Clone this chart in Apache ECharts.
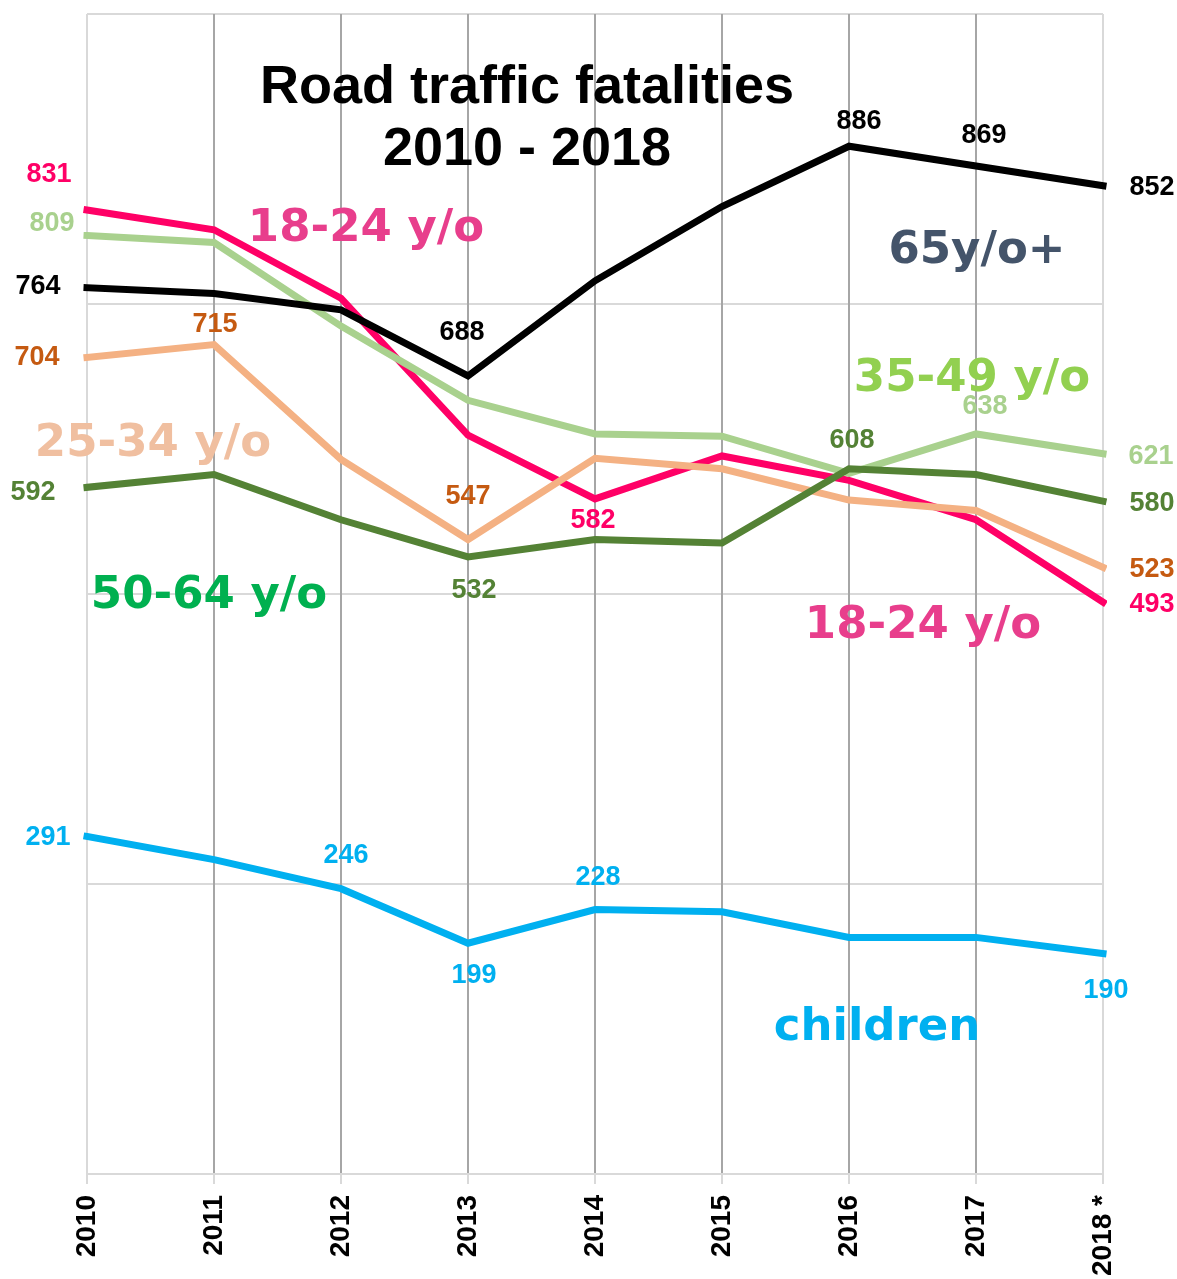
<!DOCTYPE html>
<html>
<head>
<meta charset="utf-8">
<script src="https://cdn.jsdelivr.net/npm/echarts@6/dist/echarts.min.js"></script>
<style>
  html, body { margin: 0; padding: 0; background: #fff; }
  #chart { width: 1177px; height: 1279px; }
</style>
</head>
<body>
<div id="chart"></div>
<script>
var years = ['2010', '2011', '2012', '2013', '2014', '2015', '2016', '2017', '2018 *'];

var children = [291, 271, 246, 199, 228, 226, 204, 204, 190];
var age18to24 = [831, 814, 755, 637, 582, 619, 598, 564, 493];
var age25to34 = [704, 715, 616, 547, 617, 608, 581, 572, 523];
var age35to49 = [809, 803, 731, 667, 638, 636, 604, 638, 621];
var age50to64 = [592, 603, 564, 532, 547, 544, 608, 603, 580];
var age65plus = [764, 759, 745, 688, 770, 834, 886, 869, 852];

// which points get a value label, and where it sits relative to the point
var labelSpots = {
    children: { 0: [-39, 1], 2: [5, -33], 3: [6, 32], 4: [3, -32], 8: [3, 37] },
    age18to24: { 0: [-38, -35], 4: [-2, 22], 8: [49, 2] },
    age25to34: { 0: [-50, 0], 1: [1, -20], 3: [0, -43], 8: [49, 2] },
    age35to49: { 0: [-35, -12], 7: [9, -27], 8: [48, 3] },
    age50to64: { 0: [-54, 5], 3: [6, 34], 6: [3, -28], 8: [49, 2] },
    age65plus: { 0: [-49, -1], 3: [-6, -43], 6: [10, -25], 7: [8, -30], 8: [49, 2] }
};

function makeSeries(name, key, values, lineColor, labelColor) {
    var spots = labelSpots[key];
    return {
        name: name,
        type: 'line',
        symbol: 'circle',
        symbolSize: 1,
        showSymbol: true,
        silent: true,
        lineStyle: { color: lineColor, width: 7, cap: 'square', join: 'miter' },
        itemStyle: { color: lineColor },
        data: values.map(function (v, i) {
            var item = { value: v };
            if (spots[i]) {
                item.label = {
                    show: true,
                    position: 'inside',
                    offset: spots[i],
                    formatter: '{c}',
                    color: labelColor,
                    fontFamily: 'Liberation Sans, Arial, sans-serif',
                    fontWeight: 'bold',
                    fontSize: 27
                };
            }
            return item;
        })
    };
}

function note(text, x, y, color) {
    return {
        type: 'text',
        x: x,
        y: y,
        z: 100,
        style: {
            text: text,
            fill: color,
            align: 'center',
            verticalAlign: 'middle',
            fontFamily: 'DejaVu Sans, Verdana, sans-serif',
            fontWeight: 'bold',
            fontSize: 45
        }
    };
}

var gridColors = ['#D9D9D9', '#A6A6A6', '#A6A6A6', '#A6A6A6', '#A6A6A6', '#A6A6A6', '#A6A6A6', '#A6A6A6', '#D9D9D9'];

var chart = echarts.init(document.getElementById('chart'));
chart.setOption({
    animation: false,
    backgroundColor: '#fff',
    title: {
        text: 'Road traffic fatalities\n2010 - 2018',
        left: 522,
        top: 52,
        textAlign: 'center',
        textStyle: {
            fontFamily: 'Liberation Sans, Arial, sans-serif',
            fontWeight: 'bold',
            fontSize: 54,
            lineHeight: 62,
            color: '#000'
        }
    },
    grid: { left: 87, right: 74, top: 14, bottom: 103, containLabel: false },
    xAxis: {
        type: 'category',
        data: years,
        boundaryGap: false,
        axisLine: { lineStyle: { color: '#D9D9D9', width: 2 } },
        axisTick: { show: true, length: 10, lineStyle: { color: '#D9D9D9', width: 2 } },
        axisLabel: {
            rotate: 90,
            margin: 21,
            color: '#000',
            fontFamily: 'Liberation Sans, Arial, sans-serif',
            fontWeight: 'bold',
            fontSize: 28
        },
        splitLine: { show: true, lineStyle: { color: gridColors, width: 2 } }
    },
    yAxis: {
        type: 'value',
        min: 0,
        max: 1000,
        interval: 250,
        axisLine: { show: false },
        axisTick: { show: false },
        axisLabel: { show: false },
        splitLine: { lineStyle: { color: '#D9D9D9', width: 2 } }
    },
    series: [
        makeSeries('children', 'children', children, '#00B0F0', '#00B0F0'),
        makeSeries('18-24 y/o', 'age18to24', age18to24, '#FF0066', '#FF0066'),
        makeSeries('25-34 y/o', 'age25to34', age25to34, '#F4B183', '#C55A11'),
        makeSeries('35-49 y/o', 'age35to49', age35to49, '#A9D18E', '#A9D18E'),
        makeSeries('50-64 y/o', 'age50to64', age50to64, '#548235', '#548235'),
        makeSeries('65y/o+', 'age65plus', age65plus, '#000000', '#000000')
    ],
    graphic: [
        note('18-24 y/o', 366, 229, '#E83E8C'),
        note('65y/o+', 977, 251, '#44546A'),
        note('35-49 y/o', 972, 379, '#92D050'),
        note('25-34 y/o', 153, 444, '#F0BFA0'),
        note('50-64 y/o', 209, 596, '#00B050'),
        note('18-24 y/o', 923, 626, '#E83E8C'),
        note('children', 877, 1028, '#00B0F0')
    ]
});

window.addEventListener('resize', function () {
    chart.resize();
});
</script>
</body>
</html>
